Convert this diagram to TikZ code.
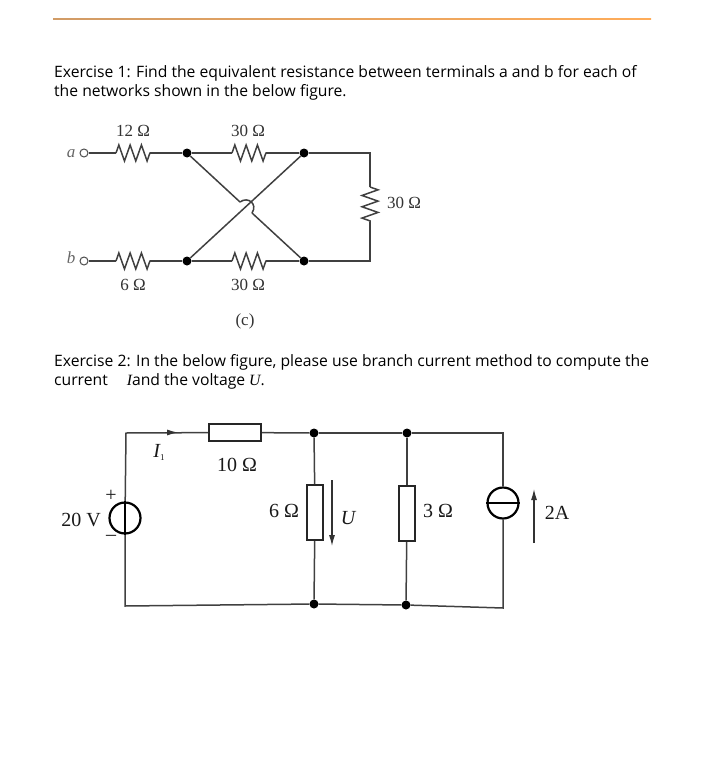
\documentclass[tikz,border=0pt]{standalone}
\usepackage{fontspec}
\setmainfont{Open Sans}
\newfontfamily\cirfont{Liberation Serif}
\usetikzlibrary{decorations.pathmorphing,arrows.meta}
\tikzset{
  wire/.style={draw=black!75,line width=1.5pt},
  zigres/.style={wire,decorate,decoration={zigzag,amplitude=8pt,segment length=11.3pt}},
  blackdot/.style={circle,fill=black,inner sep=0pt,minimum size=9pt},
  opendot/.style={circle,draw=black!70,fill=white,line width=1pt,inner sep=0pt,minimum size=8pt},
  boxres/.style={draw=black!85,fill=white,line width=2pt,inner sep=0pt},
  source/.style={circle,draw=black,fill=white,line width=2.2pt,inner sep=0pt,minimum size=31pt},
  arrowtip/.style={-{Latex[length=11pt,width=6pt]},draw=black!80,line width=1.2pt},
  para/.style={anchor=base west,inner sep=0pt,font=\fontsize{15.7}{18}\selectfont},
  lab/.style={inner sep=0pt,font=\cirfont\fontsize{20}{22}\selectfont,text=black!90},
  smalllab/.style={inner sep=0pt,font=\cirfont\fontsize{17}{19}\selectfont,text=black!80},
  italab/.style={inner sep=0pt,font=\cirfont\itshape\fontsize{17}{19}\selectfont,text=black!60}
}
\begin{document}
\begin{tikzpicture}[x=1pt,y=-1pt]
    \useasboundingbox (0,0) rectangle (708,773);
    \shade[left color=black!30!orange!60,right color=orange!65] (53,18.2) rectangle (651,19.8);
    % text
    \node[para] (ex1a) at (54,78) {Exercise 1: Find the equivalent resistance between terminals a and b for each of};
    \node[para] (ex1b) at (54,96.5) {the networks shown in the below figure.};
    \node[para] (ex2a) at (54,366) {Exercise 2: In the below figure, please use branch current method to compute the};
    \node[para] (ex2b) at (54,385) {current\hspace{19pt}{\cirfont\itshape I}and the voltage {\cirfont\itshape U}.};
    % first network
    \node[opendot] (a) at (84,153) {};
    \node[opendot] (b) at (84,261) {};
    \node[blackdot] (tl) at (187,153) {};
    \node[blackdot] (tr) at (304,153) {};
    \node[blackdot] (bl) at (187,261) {};
    \node[blackdot] (br) at (304,261) {};
    \coordinate (r1w) at (116,153);
    \coordinate (r1e) at (150,153);
    \coordinate (r2w) at (232,153);
    \coordinate (r2e) at (266,153);
    \coordinate (r3w) at (116,261);
    \coordinate (r3e) at (150,261);
    \coordinate (r4w) at (232,261);
    \coordinate (r4e) at (266,261);
    \coordinate (r5n) at (370,187);
    \coordinate (r5s) at (370,222);
    \coordinate (cne) at (370,153);
    \coordinate (cse) at (370,261);
    \coordinate (hopa) at (240,202);
    \coordinate (hopb) at (252,213);
    \draw[wire] (a) -- (r1w);
    \draw[zigres] (r1w) -- (r1e);
    \draw[wire] (r1e) -- (tl);
    \draw[wire] (tl) -- (r2w);
    \draw[zigres] (r2w) -- (r2e);
    \draw[wire] (r2e) -- (tr);
    \draw[wire] (tr) -- (cne) -- (r5n);
    \draw[zigres] (r5n) -- (r5s);
    \draw[wire] (r5s) -- (cse) -- (br);
    \draw[wire] (b) -- (r3w);
    \draw[zigres] (r3w) -- (r3e);
    \draw[wire] (r3e) -- (bl);
    \draw[wire] (bl) -- (r4w);
    \draw[zigres] (r4w) -- (r4e);
    \draw[wire] (r4e) -- (br);
    \draw[wire] (bl) -- (tr);
    \draw[wire] (tl) -- (hopa);
    \draw[wire] (hopa) .. controls (248,196) and (258,204) .. (hopb);
    \draw[wire] (hopb) -- (br);
    \node[italab] (alab) at (71,154) {a};
    \node[italab] (blab) at (71,258) {b};
    \node[smalllab] (l12) at (133,131) {12 Ω};
    \node[smalllab] (l30a) at (248,131) {30 Ω};
    \node[smalllab] (l30b) at (404,203) {30 Ω};
    \node[smalllab] (l6) at (133,285) {6 Ω};
    \node[smalllab] (l30c) at (248,285) {30 Ω};
    \node[smalllab] (lc) at (245,321) {(c)};
    % second network
    \node[blackdot] (jt1) at (314,433) {};
    \node[blackdot] (jt2) at (407,433) {};
    \node[blackdot] (jb1) at (314,604) {};
    \node[blackdot] (jb2) at (406,605) {};
    \coordinate (ctl) at (126,433);
    \coordinate (cbl) at (125,606);
    \coordinate (ctr) at (503,433);
    \coordinate (cbr) at (503,608);
    \node[boxres,minimum width=52pt,minimum height=17pt] (r10) at (235,432.5) {};
    \node[boxres,minimum width=16pt,minimum height=55pt] (r6) at (315,512.5) {};
    \node[boxres,minimum width=16pt,minimum height=55pt] (r3) at (407,513.5) {};
    \node[source] (vs) at (125,518) {};
    \node[source] (is) at (503,503) {};
    \draw[wire] (vs) -- (ctl) -- (r10);
    \draw[wire] (r10) -- (jt1);
    \draw[wire] (jt1) -- (jt2);
    \draw[wire] (jt2) -- (ctr) -- (is);
    \draw[wire] (is) -- (cbr) -- (jb2);
    \draw[wire] (jb2) -- (jb1);
    \draw[wire] (jb1) -- (cbl) -- (vs);
    \draw[wire] (jt1) -- (r6);
    \draw[wire] (r6) -- (jb1);
    \draw[wire] (jt2) -- (r3);
    \draw[wire] (r3) -- (jb2);
    \draw[line width=2.2pt] (vs.north) -- (vs.south);
    \draw[line width=2.2pt] (is.west) -- (is.east);
    \coordinate (i1a) at (165,432.5);
    \coordinate (i1b) at (178,432.5);
    \coordinate (ua) at (332,480);
    \coordinate (ub) at (332,546);
    \coordinate (ia) at (534,543);
    \coordinate (ib) at (534,489);
    \draw[arrowtip] (i1a) -- (i1b);
    \draw[arrowtip] (ua) -- (ub);
    \draw[arrowtip] (ia) -- (ib);
    \node[lab] (li1) at (159,452) {\itshape I\raisebox{-3pt}{\fontsize{9}{9}\selectfont\upshape 1}};
    \node[lab] (l10) at (237,465) {10 Ω};
    \node[lab] (l6b) at (284,511) {6 Ω};
    \node[lab] (l3) at (438,511) {3 Ω};
    \node[lab] (l20) at (81,520) {20 V};
    \node[lab] (lu) at (348,518) {\itshape U};
    \node[lab] (l2a) at (557,513) {2A};
    \node[lab] (lplus) at (111,496) {+};
    \node[lab] (lminus) at (111,538) {–};
  \end{tikzpicture}
\end{document}
